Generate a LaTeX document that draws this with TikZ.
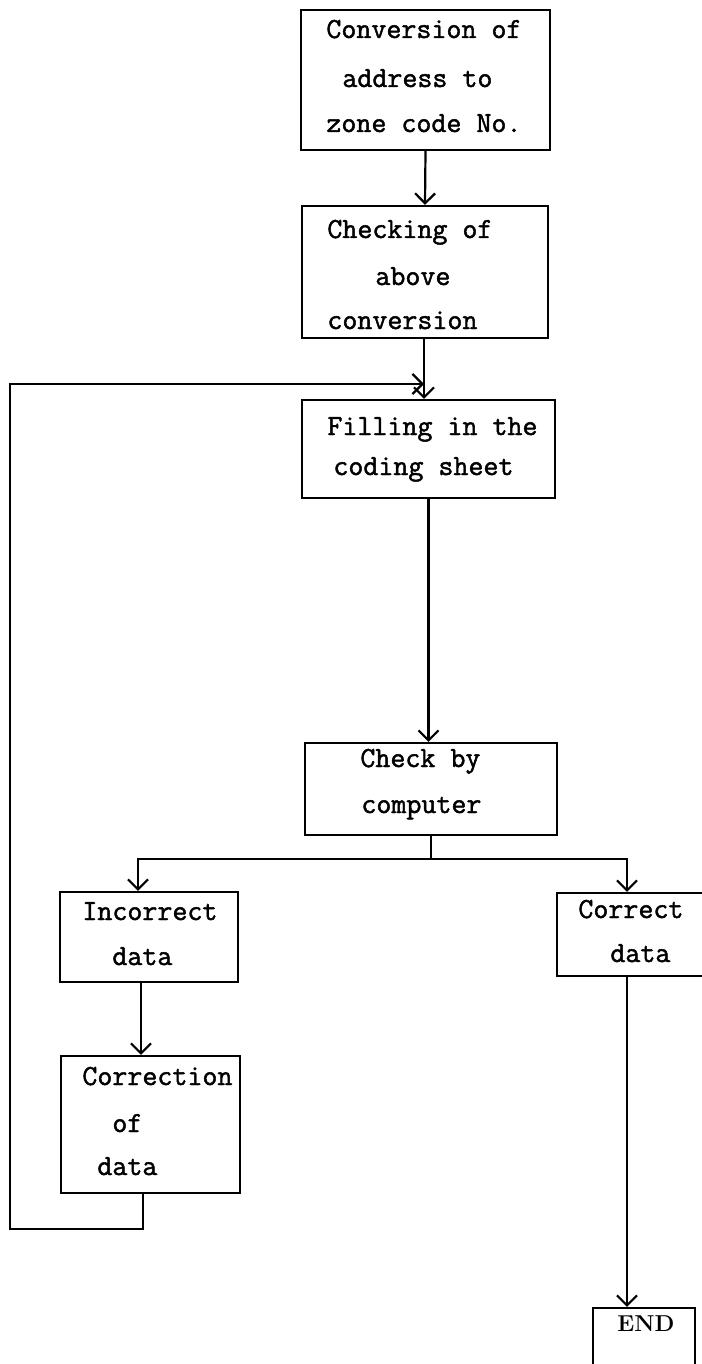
\documentclass[tikz,border=0pt]{standalone}
\usepackage{fontspec}
\usetikzlibrary{arrows.meta,fit}

% typewriter face with a heavier stroke
\newfontfamily\twfont{Latin Modern Mono}[FakeBold=1.6]

\tikzset{
  box/.style={draw, line width=1.1pt, rectangle, inner sep=0pt},
  txt/.style={font=\twfont\fontsize{14.57}{18}\selectfont, inner sep=0pt, anchor=base west},
  rmtxt/.style={font=\rmfamily\bfseries\fontsize{11.5}{14}\selectfont, inner sep=0pt, anchor=base west},
  link/.style={line width=1.1pt},
  arr/.style={line width=1.1pt, -{Straight Barb[length=5pt,width=10pt,line width=1.1pt]}}
}

\begin{document}
\begin{tikzpicture}[x=0.5pt, y=-0.5pt]
\useasboundingbox (0,0) rectangle (701,1364);

% boxes (corners in drawing units)
\node[box, fit={(301,10) (550,150)}] (b1) {};
\node[box, fit={(302,206) (548,338)}] (b2) {};
\node[box, fit={(302,400) (555,498)}] (b3) {};
\node[box, fit={(305,743) (557,835)}] (b4) {};
\node[box, fit={(60,892) (238,982)}] (inc) {};
\node[box, fit={(61,1056) (240,1193)}] (fix) {};
\node[box, fit={(557,893) (706,976)}] (cor) {};
\node[box, fit={(593,1308) (695,1369)}] (end) {};

% box labels
\node[txt] (t1a) at (326,38) {Conversion of};
\node[txt] (t1b) at (342,87) {address to};
\node[txt] (t1c) at (326,132) {zone code No.};

\node[txt] (t2a) at (327,238) {Checking of};
\node[txt] (t2b) at (375,285) {above};
\node[txt] (t2c) at (327,329) {conversion};

\node[txt] (t3a) at (327,435) {Filling in the};
\node[txt] (t3b) at (333,475) {coding sheet};

\node[txt] (t4a) at (360,767) {Check by};
\node[txt] (t4b) at (361,813) {computer};

\node[txt] (t5a) at (82,920) {Incorrect};
\node[txt] (t5b) at (112,965) {data};

\node[txt] (t6a) at (82,1085) {Correction};
\node[txt] (t6b) at (112,1132) {of};
\node[txt] (t6c) at (97,1175) {data};

\node[txt] (t7a) at (578,918) {Correct};
\node[txt] (t7b) at (610,962) {data};

\node[rmtxt] (t8) at (617,1331) {END};

% helper points for the branch and the return loop
\coordinate (brL) at (138,859);
\coordinate (brR) at (627,859);
\coordinate (fbB) at (10,1229);
\coordinate (fbT) at (10,384);

% main flow
\draw[arr] (b1.south) -- (b2.north);
\draw[arr] ([xshift=-0.5pt]b2.south) -- ([xshift=-0.5pt]b2.south |- b3.north);
\draw[arr] (b3.south) -- (b3.south |- b4.north);

% split after the computer check
\draw[link] (b4.south) -- (b4.south |- brL);
\draw[arr] (b4.south |- brL) -- (brL) -- (brL |- inc.north);
\draw[arr] (b4.south |- brL) -- (brR) -- (brR |- cor.north);

% incorrect branch and return loop
\draw[arr] ([xshift=-4pt]inc.south) -- ([xshift=-4pt]inc.south |- fix.north);
\draw[arr] ([xshift=-3.75pt]fix.south) |- (fbB) -- (fbT) -- ([xshift=-0.5pt]b2.south |- fbT);

% correct branch
\draw[arr] (brR |- cor.south) -- (brR |- end.north);
\end{tikzpicture}
\end{document}
